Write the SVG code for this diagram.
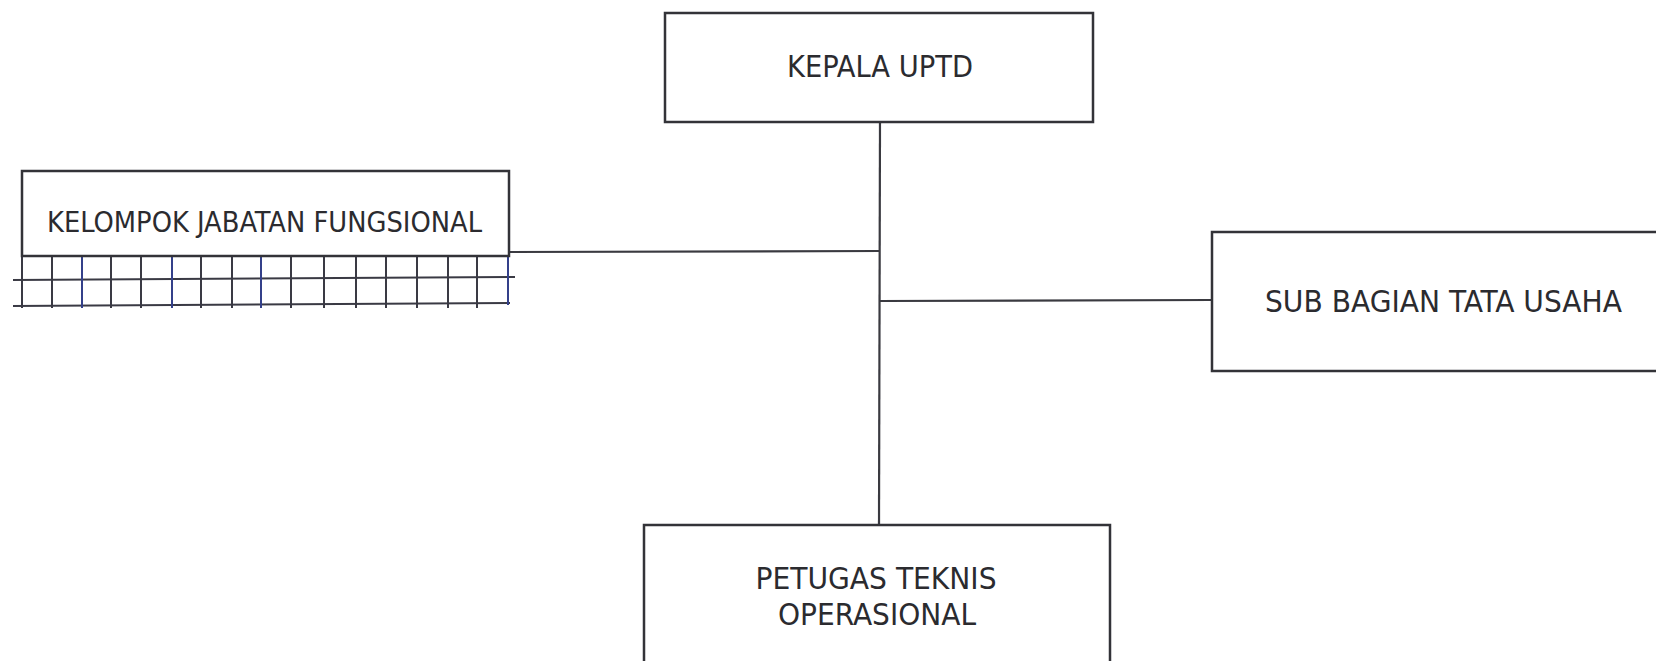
<svg xmlns="http://www.w3.org/2000/svg" width="1656" height="661" viewBox="0 0 1656 661">
  <style>
    .box { fill: #ffffff; stroke: #333338; stroke-width: 2.5; }
    .conn { fill: none; stroke: #3a3a40; stroke-width: 2.2; }
    .grid { fill: none; stroke: #3a3a44; stroke-width: 2; }
    .gridb { fill: none; stroke: #34408a; stroke-width: 2; }
    .lbl { font-family: "DejaVu Sans Condensed", "DejaVu Sans", sans-serif; font-size: 30px; fill: #2b2b2f; text-anchor: middle; }
  </style>
  <rect x="0" y="0" width="1656" height="661" fill="#ffffff"/>

  <g id="connectors">
    <line class="conn" x1="880" y1="122" x2="879" y2="525"/>
    <line class="conn" x1="509" y1="252" x2="880" y2="251"/>
    <line class="conn" x1="880" y1="301" x2="1212" y2="300"/>
  </g>

  <g id="node-kepala">
    <rect class="box" x="665" y="13" width="428" height="109"/>
    <text class="lbl" x="880" y="77" textLength="186" lengthAdjust="spacingAndGlyphs">KEPALA UPTD</text>
  </g>

  <g id="node-kelompok">
    <g id="kelompok-grid">
      <line class="grid" x1="13" y1="280" x2="515" y2="277"/>
      <line class="grid" x1="13" y1="306" x2="510" y2="303"/>
      <line class="grid" x1="22" y1="256" x2="22" y2="308"/>
      <line class="grid" x1="52" y1="254" x2="52" y2="308"/>
      <line class="gridb" x1="82" y1="254" x2="82" y2="308"/>
      <line class="grid" x1="111" y1="254" x2="111" y2="308"/>
      <line class="grid" x1="141" y1="254" x2="141" y2="308"/>
      <line class="gridb" x1="172" y1="254" x2="172" y2="308"/>
      <line class="grid" x1="201" y1="254" x2="201" y2="308"/>
      <line class="grid" x1="232" y1="254" x2="232" y2="308"/>
      <line class="gridb" x1="261" y1="254" x2="261" y2="308"/>
      <line class="grid" x1="291" y1="254" x2="291" y2="308"/>
      <line class="grid" x1="324" y1="254" x2="324" y2="308"/>
      <line class="grid" x1="356" y1="254" x2="356" y2="308"/>
      <line class="grid" x1="386" y1="254" x2="386" y2="308"/>
      <line class="grid" x1="417" y1="254" x2="417" y2="308"/>
      <line class="grid" x1="448" y1="254" x2="448" y2="308"/>
      <line class="grid" x1="477" y1="254" x2="477" y2="308"/>
      <line class="gridb" x1="508" y1="254" x2="508" y2="305"/>
    </g>
    <rect class="box" x="22" y="171" width="487" height="85"/>
    <text class="lbl" x="264.5" y="232" style="font-size:28px" textLength="435" lengthAdjust="spacingAndGlyphs">KELOMPOK JABATAN FUNGSIONAL</text>
  </g>

  <g id="node-subbagian">
    <rect class="box" x="1212" y="232" width="470" height="139"/>
    <text class="lbl" x="1443.5" y="312" textLength="357" lengthAdjust="spacingAndGlyphs">SUB BAGIAN TATA USAHA</text>
  </g>

  <g id="node-petugas">
    <rect class="box" x="644" y="525" width="466" height="160"/>
    <text class="lbl" x="876" y="589" textLength="241" lengthAdjust="spacingAndGlyphs">PETUGAS TEKNIS</text>
    <text class="lbl" x="877" y="625" textLength="198" lengthAdjust="spacingAndGlyphs">OPERASIONAL</text>
  </g>
</svg>
